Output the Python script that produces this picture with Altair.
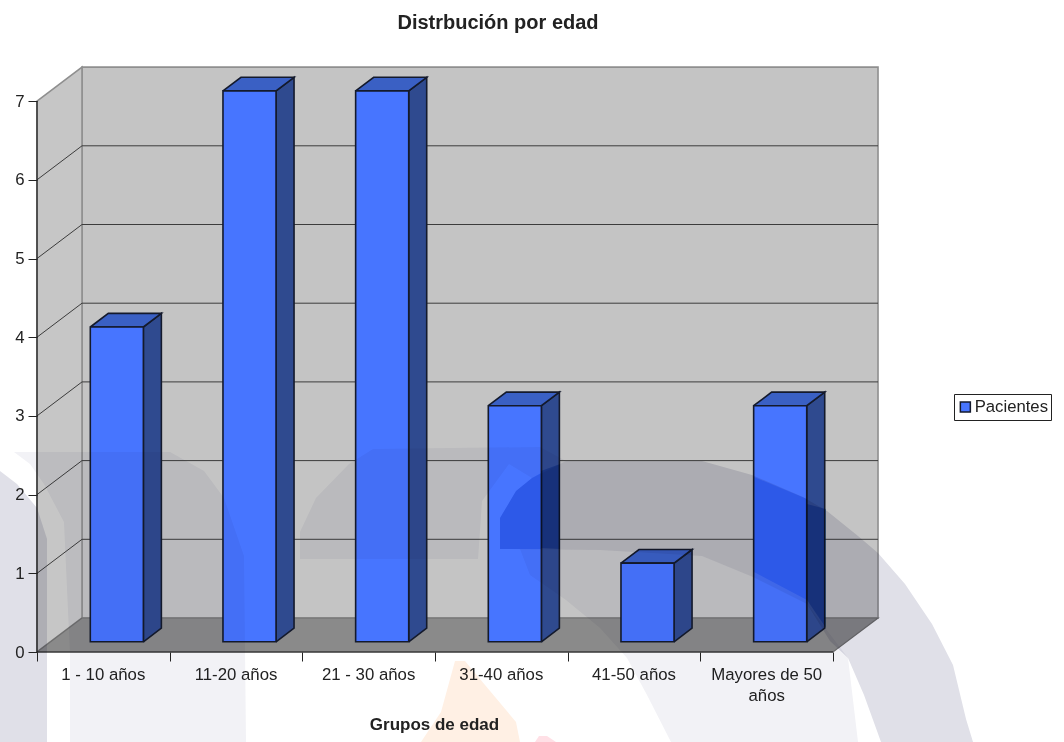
import altair as alt
import pandas as pd

# Series
grupos = ["1 - 10 años", "11-20 años", "21 - 30 años", "31-40 años", "41-50 años", "Mayores de 50\naños"]
pacientes = [4, 7, 7, 3, 1, 3]
y_ticks = [0, 1, 2, 3, 4, 5, 6, 7]

# Scale geometry of the oblique box (pixels per unit on the canvas)
PX_CAT, PX_VAL = 132.67, 78.7
LEFT, BASE, TOP, RIGHT = 37, 652, 67, 879
DEPTH_X, DEPTH_Y = 45 / PX_CAT, 34 / PX_VAL   # full box depth in axis units
BAR_NEAR, BAR_FAR = 0.30, 0.70                # bar extent inside the box depth
BAR_HALF = 0.2


def project(cat, val, depth=0.0):
    return cat + depth * DEPTH_X, val + depth * DEPTH_Y


def polygon_rows(corners, group):
    rows = [{"x": x, "y": y, "i": i, "g": group} for i, (x, y) in enumerate(corners)]
    rows.append({"x": corners[0][0], "y": corners[0][1], "i": len(corners), "g": group})
    return rows


def sheet(points):
    """Canvas outline to axis units."""
    return [((px - LEFT) / PX_CAT, (BASE - py) / PX_VAL) for px, py in points]


NCAT = len(grupos)
TOP_V = 7

x_scale = alt.Scale(domain=[0, (RIGHT - LEFT) / PX_CAT], nice=False, zero=False)
y_scale = alt.Scale(domain=[0, (BASE - TOP) / PX_VAL], nice=False, zero=False)
x_axis = alt.Axis(
    values=list(range(NCAT + 1)),
    labels=False,
    grid=False,
    domain=False,
    ticks=True,
    tickSize=9,
    tickColor="#222222",
    title="Grupos de edad",
    titleFont="Liberation Sans",
    titleFontSize=17,
    titleFontWeight="bold",
    titleColor="#222222",
    titleX=397,
    titleY=64,
    zindex=1,
)
y_axis = alt.Axis(
    values=y_ticks,
    format="d",
    title=None,
    grid=False,
    domain=False,
    tickSize=9,
    tickColor="#222222",
    labelFont="Liberation Sans",
    labelFontSize=16.8,
    labelColor="#222222",
    labelPadding=4,
    zindex=1,
)
X = alt.X("x:Q", scale=x_scale, axis=x_axis)
Y = alt.Y("y:Q", scale=y_scale, axis=y_axis)


def faces(rows, fill, stroke, width=1.0, blend=None):
    kw = {"blend": blend} if blend else {}
    return alt.Chart(pd.DataFrame(rows)).mark_line(
        fill=fill, filled=True, stroke=stroke, strokeWidth=width, strokeJoin="miter", **kw
    ).encode(x=X, y=Y, detail="g:N", order="i:Q")


# Box walls and floor
back = polygon_rows([project(0, 0, 1), project(NCAT, 0, 1), project(NCAT, TOP_V, 1), project(0, TOP_V, 1)], "back")
side = polygon_rows([project(0, 0, 0), project(0, 0, 1), project(0, TOP_V, 1), project(0, TOP_V, 0)], "side")
floor = polygon_rows([project(0, 0, 0), project(NCAT, 0, 0), project(NCAT, 0, 1), project(0, 0, 1)], "floor")
walls = [
    faces(back, "#c4c4c4", "#8f8f8f", 1.6),
    faces(side, "#c6c6c6", "#8f8f8f", 1.6),
    faces(floor, "#8a8a8a", "#6e6e6e", 1.2),
]

# Gridlines running along the side wall and across the back wall
grid_rows = []
for v in y_ticks[1:-1]:
    grid_rows += [
        {"x": project(0, v, 0)[0], "y": project(0, v, 0)[1], "i": 0, "g": v},
        {"x": project(0, v, 1)[0], "y": project(0, v, 1)[1], "i": 1, "g": v},
        {"x": project(NCAT, v, 1)[0], "y": project(NCAT, v, 1)[1], "i": 2, "g": v},
    ]
grid = alt.Chart(pd.DataFrame(grid_rows)).mark_line(stroke="#3c3c3c", strokeWidth=1).encode(
    x=X, y=Y, detail="g:N", order="i:Q"
)

# Bars: front face plus oblique side and top faces
front_rows, side_rows, top_rows = [], [], []
for c, (g, v) in enumerate(zip(grupos, pacientes)):
    mid = c + 0.5
    l, r = mid - BAR_HALF, mid + BAR_HALF
    x0, y0 = project(l, 0, BAR_NEAR)
    x1, y1 = project(r, v, BAR_NEAR)
    front_rows.append({"x": x0, "x2": x1, "y": y0, "y2": y1, "serie": "Pacientes"})
    side_rows += polygon_rows(
        [project(r, 0, BAR_NEAR), project(r, 0, BAR_FAR), project(r, v, BAR_FAR), project(r, v, BAR_NEAR)], c
    )
    top_rows += polygon_rows(
        [project(l, v, BAR_NEAR), project(r, v, BAR_NEAR), project(r, v, BAR_FAR), project(l, v, BAR_FAR)], c
    )

bar_sides = faces(side_rows, "#2f4a8f", "#141a2c", 1.6)
bar_tops = faces(top_rows, "#3a60c4", "#141a2c", 1.6)
bar_fronts = alt.Chart(pd.DataFrame(front_rows)).mark_bar(stroke="#141a2c", strokeWidth=1.6).encode(
    x=X,
    x2="x2:Q",
    y=Y,
    y2="y2:Q",
    fill=alt.Fill(
        "serie:N",
        scale=alt.Scale(domain=["Pacientes"], range=["#4775ff"]),
        legend=alt.Legend(
            title=None,
            orient="none",
            legendX=917,
            legendY=327,
            direction="vertical",
            strokeColor="#222222",
            fillColor="#ffffff",
            padding=3,
            clipHeight=20,
            symbolType="square",
            symbolSize=100,
            symbolStrokeColor="#141a2c",
            symbolStrokeWidth=1.5,
            labelFont="Liberation Sans",
            labelFontSize=16.7,
            labelColor="#222222",
            labelOffset=1,
        ),
    ),
)

# Front edges of the box
edge_rows = [
    {"x": project(0, 0)[0], "y": 0, "x2": project(NCAT, 0)[0], "y2": 0},
    {"x": project(0, 0)[0], "y": 0, "x2": project(0, 0)[0], "y2": TOP_V},
]
edges = alt.Chart(pd.DataFrame(edge_rows)).mark_rule(stroke="#1c1c1c", strokeWidth=1.2).encode(
    x=X, y=Y, x2="x2:Q", y2="y2:Q"
)

cat_labels = alt.Chart(
    pd.DataFrame({"x": [c + 0.5 for c in range(NCAT)], "y": [0.0] * NCAT, "t": grupos})
).mark_text(
    font="Liberation Sans", fontSize=16.8, color="#222222", baseline="top", lineBreak="\n", dy=15, lineHeight=21
).encode(x=X, y=Y, text="t:N")

# Faint seal printed across the sheet
seal_dark = [
    [(500, 549), (500, 518), (516, 491), (532, 478), (566, 461), (702, 461), (752, 475), (803, 497), (827, 511),
     (858, 536), (878, 553), (905, 584), (932, 624), (953, 665), (966, 719), (973, 742), (881, 742), (864, 695),
     (848, 658), (830, 641), (807, 604), (753, 577), (702, 556), (600, 550)],
    [(0, 471), (17, 484), (37, 508), (47, 539), (47, 742), (0, 742)],
]
seal_light = [
    [(566, 600), (600, 628), (627, 658), (647, 695), (671, 742), (858, 742), (848, 658), (807, 604), (753, 577),
     (702, 556), (600, 550), (520, 549), (530, 575)],
    [(300, 559), (300, 532), (316, 498), (349, 464), (373, 449), (540, 447), (566, 461), (532, 478), (509, 464),
     (482, 501), (478, 559)],
    [(14, 452), (170, 452), (204, 471), (224, 498), (244, 556), (246, 742), (70, 742), (70, 654), (64, 522),
     (44, 484), (30, 464)],
]
seal_orange = [[(455, 661), (465, 661), (485, 685), (516, 722), (520, 742), (421, 742), (441, 712)]]
seal_pink = [[(539, 736), (547, 736), (556, 742), (535, 742)]]
# Where the seal crosses a blue bar the ink reads deeper
seal_on_blue = [
    [(500, 549), (500, 518), (516, 491), (532, 478), (541, 473), (541, 549)],
    [(754, 477), (807, 499), (807, 600), (754, 572)],
]
seal_on_blue_side = [
    [(541, 471), (560, 464), (560, 549), (541, 548)],
    [(807, 504), (826, 509), (826, 628), (807, 600)],
]


def seal(outlines, fill):
    rows = []
    for n, outline in enumerate(outlines):
        rows += polygon_rows(sheet(outline), n)
    return faces(rows, fill, "transparent", 0, blend="multiply")


seal_layers = [
    seal(seal_dark, "#e0e0e8"),
    seal(seal_light, "#f2f2f6"),
    seal(seal_orange, "#fff0e4"),
    seal(seal_pink, "#ffe0e6"),
    seal(seal_on_blue, "#b4dcff"),
    seal(seal_on_blue_side, "#8cc0f0"),
]

chart = alt.layer(
    *walls, grid, bar_sides, bar_tops, bar_fronts, edges, cat_labels, *seal_layers
).properties(
    width=RIGHT - LEFT,
    height=BASE - TOP,
    autosize=alt.AutoSizeParams(type="none"),
    padding={"left": LEFT, "top": TOP, "right": 1064 - RIGHT, "bottom": 742 - BASE},
    background="white",
    title=alt.TitleParams(
        "Distrbución por edad",
        font="Liberation Sans",
        fontSize=20,
        fontWeight="bold",
        color="#222222",
        anchor="middle",
        dx=40,
        offset=31,
    ),
).configure_view(stroke=None)

chart.save("out.html", embed_options={"renderer": "svg", "actions": False})
